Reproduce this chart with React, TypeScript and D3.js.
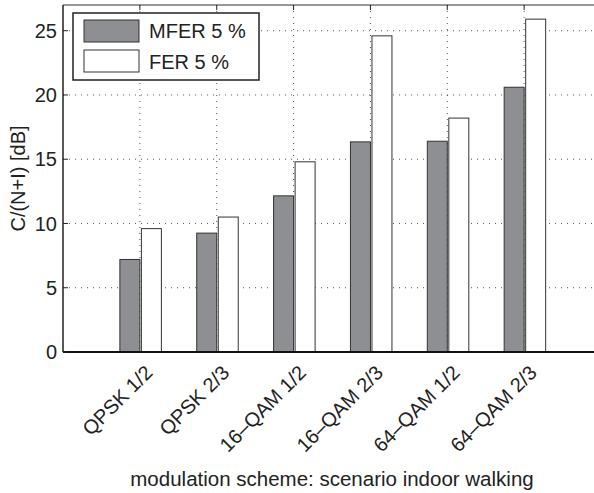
import React from "react";
import * as d3 from "d3";

const categories = ["QPSK 1/2", "QPSK 2/3", "16–QAM 1/2", "16–QAM 2/3", "64–QAM 1/2", "64–QAM 2/3"];
const mferValues = [7.2, 9.25, 12.15, 16.35, 16.4, 20.6];
const ferValues = [9.6, 10.5, 14.8, 24.6, 18.2, 25.9];
const yTicks = [0, 5, 10, 15, 20, 25];
const seriesNames = ["MFER 5 %", "FER 5 %"];

const W = 594;
const H = 493;
const left = 63;
const top = 5;
const bottom = 352;
const right = 601;

const FONT = "'Liberation Sans', Arial, Helvetica, sans-serif";
const GRAY = "#8e8f93";

export default function App() {
  const x = d3.scaleLinear().domain([0, categories.length + 1]).range([left, right]);
  const y = d3.scaleLinear().domain([0, 27]).range([bottom, top]);
  const bw = 0.26;

  return (
    <svg width={W} height={H} style={{ position: "absolute", left: 0, top: 0, background: "#fff" }}>
      {/* grid */}
      <g stroke="#555" strokeWidth={1} strokeDasharray="1,5">
        {yTicks.filter((t) => t > 0).map((t) => (
          <line key={"h" + t} x1={left} x2={W} y1={y(t)} y2={y(t)} />
        ))}
        {categories.map((c, i) => (
          <line key={"v" + c} x1={x(i + 1)} x2={x(i + 1)} y1={top} y2={bottom} />
        ))}
      </g>
      {/* bars */}
      {categories.map((c, i) => (
        <g key={c}>
          <rect
            x={x(i + 1 - bw)}
            y={y(mferValues[i])}
            width={x(bw) - x(0)}
            height={y(0) - y(mferValues[i])}
            fill={GRAY}
            stroke="#333"
            strokeWidth={1}
          />
          <rect
            x={x(i + 1 + 0.02)}
            y={y(ferValues[i])}
            width={x(bw) - x(0)}
            height={y(0) - y(ferValues[i])}
            fill="#fff"
            stroke="#333"
            strokeWidth={1}
          />
        </g>
      ))}
      {/* axes */}
      <line x1={left} x2={W} y1={top} y2={top} stroke="#333" strokeWidth={1.2} />
      <line x1={left} x2={left} y1={top} y2={bottom} stroke="#222" strokeWidth={1.5} />
      <line x1={left} x2={W} y1={bottom} y2={bottom} stroke="#111" strokeWidth={2} />
      {yTicks.map((t) => (
        <line key={"yt" + t} x1={left} x2={left + 5} y1={y(t)} y2={y(t)} stroke="#222" strokeWidth={1} />
      ))}
      {categories.map((c, i) => (
        <line key={"xt" + c} x1={x(i + 1)} x2={x(i + 1)} y1={top} y2={top + 5} stroke="#222" strokeWidth={1} />
      ))}
      {/* tick labels */}
      <g fontFamily={FONT} fontSize={20} fill="#222">
        {yTicks.map((t) => (
          <text key={"yl" + t} x={left - 6} y={y(t)} dy="0.36em" textAnchor="end">
            {t}
          </text>
        ))}
        {categories.map((c, i) => (
          <text
            key={"xl" + c}
            transform={`translate(${x(i + 1) + 4},${bottom + 12}) rotate(-45)`}
            textAnchor="end"
            dy="0.7em"
          >
            {c}
          </text>
        ))}
      </g>
      <text
        transform={`translate(25,${(top + bottom) / 2}) rotate(-90)`}
        textAnchor="middle"
        fontFamily={FONT}
        fontSize={20}
        fill="#222"
      >
        C/(N+I) [dB]
      </text>
      <text x={(left + right) / 2} y={485.5} textAnchor="middle" fontFamily={FONT} fontSize={20.5} fill="#222">
        modulation scheme: scenario indoor walking
      </text>
      {/* legend */}
      <g>
        <rect x={73} y={13} width={186} height={67} fill="#fff" stroke="#222" strokeWidth={1.5} />
        <rect x={84} y={20} width={55} height={22} fill={GRAY} stroke="#333" strokeWidth={1} />
        <rect x={84} y={50} width={55} height={22} fill="#fff" stroke="#333" strokeWidth={1} />
        <text x={149} y={38.3} fontFamily={FONT} fontSize={20} fill="#222">{seriesNames[0]}</text>
        <text x={149} y={69.3} fontFamily={FONT} fontSize={20} fill="#222">{seriesNames[1]}</text>
      </g>
    </svg>
  );
}
